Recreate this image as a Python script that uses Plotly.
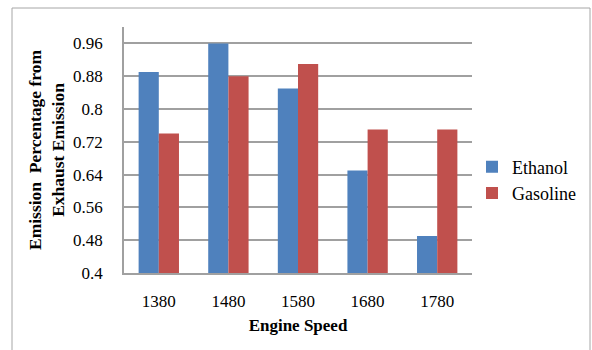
import plotly.graph_objects as go

categories = ["1380", "1480", "1580", "1680", "1780"]
ethanol = [0.89, 0.96, 0.85, 0.65, 0.49]
gasoline = [0.74, 0.88, 0.91, 0.75, 0.75]
y_ticks = [0.4, 0.48, 0.56, 0.64, 0.72, 0.8, 0.88, 0.96]
y_tick_labels = ["0.4", "0.48", "0.56", "0.64", "0.72", "0.8", "0.88", "0.96"]

FONT = "Times New Roman, Liberation Serif, serif"

fig = go.Figure()
fig.add_trace(go.Bar(x=categories, y=ethanol, name="Ethanol",
                     marker=dict(color="#4F81BD", line=dict(width=0))))
fig.add_trace(go.Bar(x=categories, y=gasoline, name="Gasoline",
                     marker=dict(color="#C0504D", line=dict(width=0))))

L, R, T, B = 124, 472, 27, 273
W, H = 592, 350
pw, ph = R - L, B - T

def px(x):
    return (x - L) / pw

def py(y):
    return (B - y) / ph

fig.update_layout(
    width=W, height=H,
    margin=dict(l=L, r=W - R, t=T, b=H - B, autoexpand=False),
    paper_bgcolor="white", plot_bgcolor="white",
    barmode="group", bargap=0.42, bargroupgap=0,
    font=dict(family=FONT, size=16, color="#000000"),
    showlegend=True,
    legend=dict(x=px(472), y=py(180), xanchor="left", yanchor="middle",
                font=dict(family=FONT, size=18, color="#000000"),
                bgcolor="rgba(0,0,0,0)", itemwidth=30, tracegroupgap=4),
    xaxis=dict(
        type="category", showgrid=False, showline=True,
        linecolor="#A0A0A0", linewidth=1.5, ticks="",
        tickfont=dict(family=FONT, size=17, color="#000000"),
        ticklabelstandoff=12,
        title=dict(text="<b>Engine Speed</b>",
                   font=dict(family=FONT, size=17, color="#000000"), standoff=9),
    ),
    yaxis=dict(
        range=[0.4, 1.0], tickvals=y_ticks, ticktext=y_tick_labels,
        showgrid=True, gridcolor="#A0A0A0", gridwidth=1.5,
        showline=True, linecolor="#A0A0A0", linewidth=1.5,
        ticks="", zeroline=False,
        tickfont=dict(family=FONT, size=17, color="#000000"),
        ticklabelstandoff=16,
    ),
    annotations=[
        dict(text="<b>Emission&nbsp; Percentage from<br>Exhaust Emission</b>",
             xref="paper", yref="paper", x=px(46), y=py(150),
             xanchor="center", yanchor="middle", textangle=-90,
             showarrow=False,
             font=dict(family=FONT, size=17.5, color="#000000")),
    ],
    shapes=[
        dict(type="rect", xref="paper", yref="paper",
             x0=px(12), x1=px(590), y0=py(353), y1=py(8),
             line=dict(color="#A6A6A6", width=1), layer="below"),
    ],
)

fig.write_html("out.html")
